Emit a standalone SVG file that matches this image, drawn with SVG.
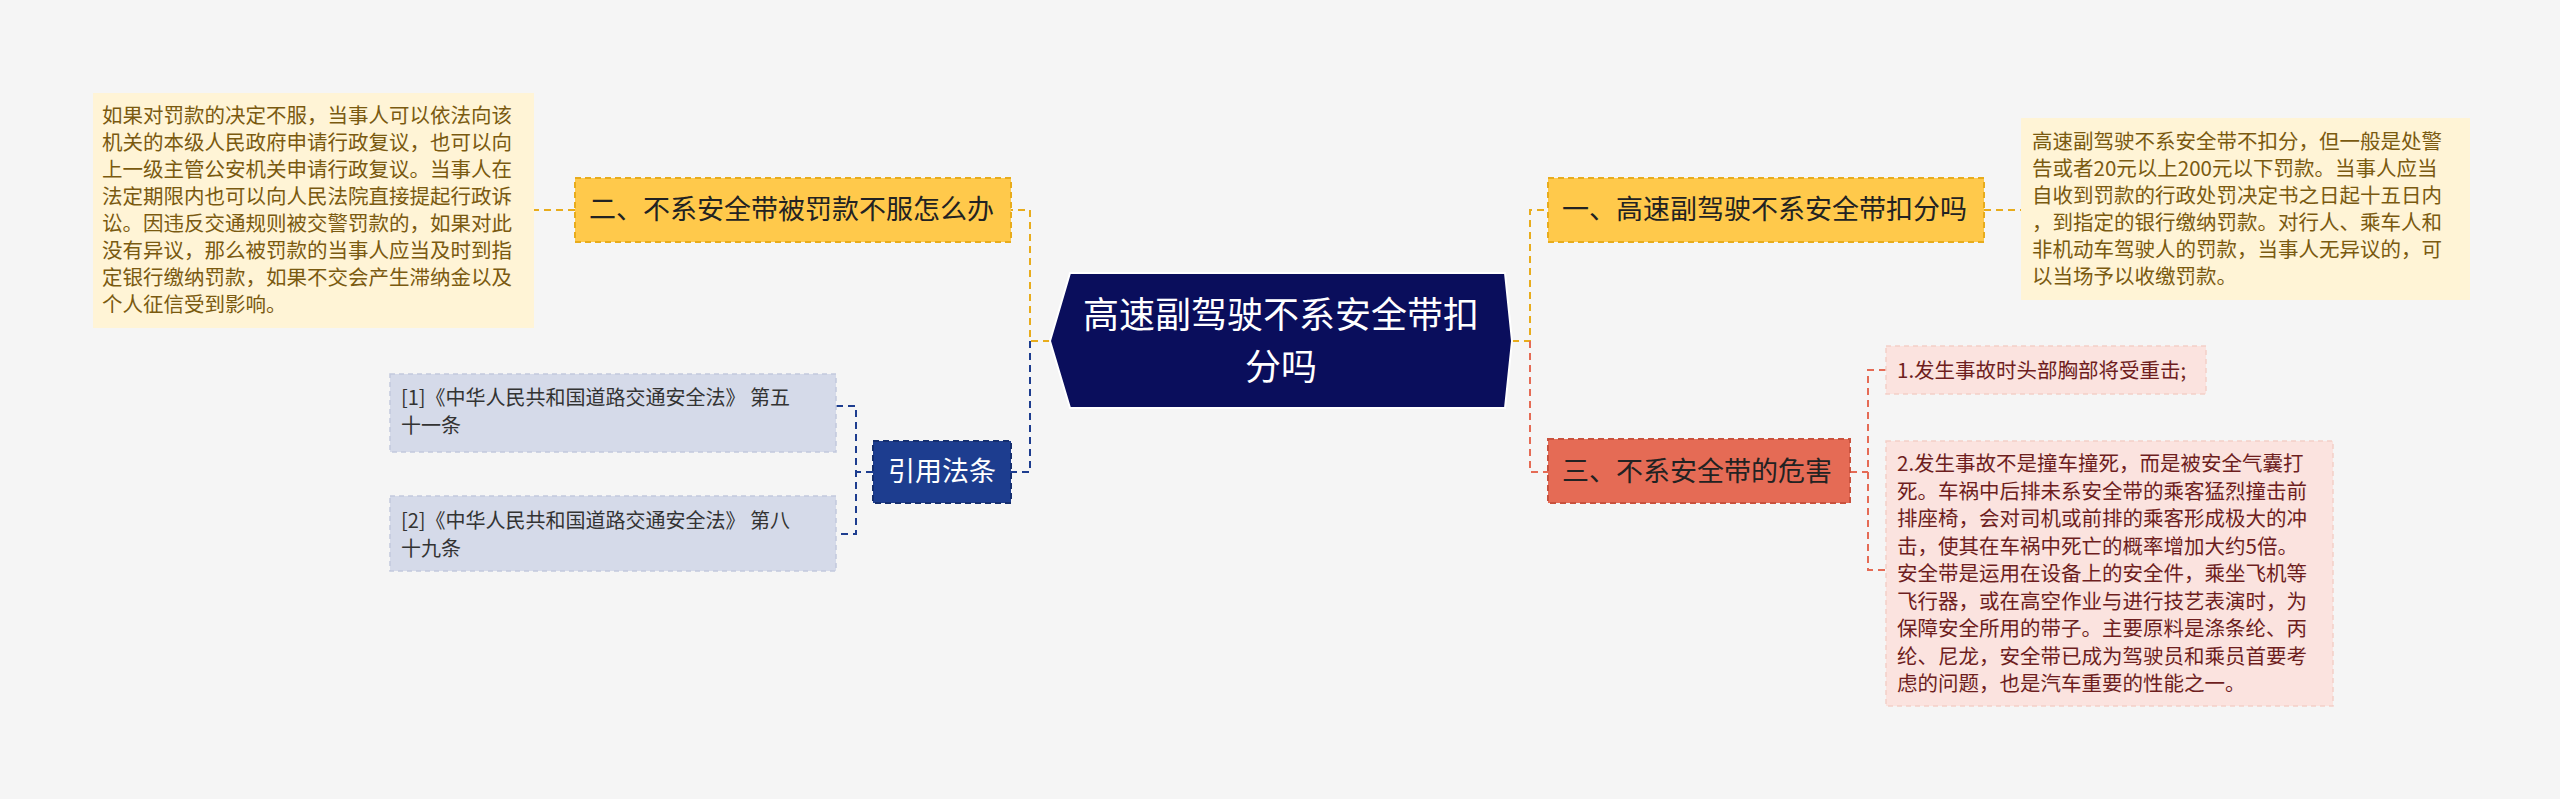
<svg xmlns="http://www.w3.org/2000/svg" width="2560" height="799" viewBox="0 0 2560 799">
<style>
text{font-family:"Noto Sans CJK SC","Liberation Sans",sans-serif}
.n{font-size:27px;fill:#222}
.y{fill:#FFC94B;stroke:#E8AC1C;stroke-width:2;stroke-dasharray:6 4}
.note{fill:#FFF4D6}
.nt{font-size:20.5px;fill:#7A5A10}
.lf{fill:#FBE3DF;stroke:#F4CFC8;stroke-width:1.5;stroke-dasharray:5 4}
.lt{font-size:20.5px;fill:#6E1E1E}
.rf{fill:#D5DAE9;stroke:#C2C9DD;stroke-width:1.5;stroke-dasharray:5 4}
.rt{font-size:20px;fill:#333}
.c{fill:none;stroke-width:2;stroke-dasharray:7 5}
</style>
<rect width="2560" height="799" fill="#F5F5F5"/>
<g id="connectors">
<path class="c" stroke="#E8AC1C" d="M1050 341H1030V210H1011"/>
<path class="c" stroke="#1D3D8F" d="M1030 341V472H1011"/>
<path class="c" stroke="#E8AC1C" d="M1512 341H1530V210H1548"/>
<path class="c" stroke="#E56B55" d="M1530 341V472H1548"/>
<path class="c" stroke="#E8AC1C" d="M1984 210H2021"/>
<path class="c" stroke="#E8AC1C" d="M575 210H534"/>
<path class="c" stroke="#E56B55" stroke-width="1.5" d="M1850 472H1868M1886 370H1868V570H1886"/>
<path class="c" stroke="#1D3D8F" stroke-width="1.5" d="M873 472H856M836 406H856V534H836"/>
</g>
<g id="center">
<polygon points="1050,341 1070,273 1505,273 1512,341 1505,408 1070,408" fill="#0A0E5C" stroke="#fff" stroke-width="2"/>
<text x="1281" y="328" font-size="36" fill="#fff" text-anchor="middle">高速副驾驶不系安全带扣</text>
<text x="1281" y="380" font-size="36" fill="#fff" text-anchor="middle">分吗</text>
</g>
<g id="n1">
<rect class="y" x="1548" y="178" width="436" height="64"/>
<text class="n" x="1562" y="219">一、高速副驾驶不系安全带扣分吗</text>
</g>
<g id="note1">
<rect class="note" x="2021" y="118" width="449" height="182"/>
<text class="nt" x="2032" y="149">高速副驾驶不系安全带不扣分，但一般是处警</text>
<text class="nt" x="2032" y="176">告或者20元以上200元以下罚款。当事人应当</text>
<text class="nt" x="2032" y="203">自收到罚款的行政处罚决定书之日起十五日内</text>
<text class="nt" x="2032" y="230">，到指定的银行缴纳罚款。对行人、乘车人和</text>
<text class="nt" x="2032" y="257">非机动车驾驶人的罚款，当事人无异议的，可</text>
<text class="nt" x="2032" y="284">以当场予以收缴罚款。</text>
</g>
<g id="n3">
<rect x="1548" y="439" width="302" height="64" fill="#E56B55" stroke="#C9523E" stroke-width="2" stroke-dasharray="6 4"/>
<text class="n" x="1562" y="481">三、不系安全带的危害</text>
</g>
<g id="leaf1">
<rect class="lf" x="1886" y="346" width="320" height="48"/>
<text class="lt" x="1897" y="378">1.发生事故时头部胸部将受重击;</text>
</g>
<g id="leaf2">
<rect class="lf" x="1886" y="441" width="447" height="265"/>
<text class="lt" x="1897" y="471">2.发生事故不是撞车撞死，而是被安全气囊打</text>
<text class="lt" x="1897" y="498.5">死。车祸中后排未系安全带的乘客猛烈撞击前</text>
<text class="lt" x="1897" y="526">排座椅，会对司机或前排的乘客形成极大的冲</text>
<text class="lt" x="1897" y="553.5">击，使其在车祸中死亡的概率增加大约5倍。</text>
<text class="lt" x="1897" y="581">安全带是运用在设备上的安全件，乘坐飞机等</text>
<text class="lt" x="1897" y="608.5">飞行器，或在高空作业与进行技艺表演时，为</text>
<text class="lt" x="1897" y="636">保障安全所用的带子。主要原料是涤条纶、丙</text>
<text class="lt" x="1897" y="663.5">纶、尼龙，安全带已成为驾驶员和乘员首要考</text>
<text class="lt" x="1897" y="691">虑的问题，也是汽车重要的性能之一。</text>
</g>
<g id="n2">
<rect class="y" x="575" y="178" width="436" height="64"/>
<text class="n" x="589" y="219">二、不系安全带被罚款不服怎么办</text>
</g>
<g id="note2">
<rect class="note" x="93" y="93" width="441" height="235"/>
<text class="nt" x="102" y="123">如果对罚款的决定不服，当事人可以依法向该</text>
<text class="nt" x="102" y="150">机关的本级人民政府申请行政复议，也可以向</text>
<text class="nt" x="102" y="177">上一级主管公安机关申请行政复议。当事人在</text>
<text class="nt" x="102" y="204">法定期限内也可以向人民法院直接提起行政诉</text>
<text class="nt" x="102" y="231">讼。因违反交通规则被交警罚款的，如果对此</text>
<text class="nt" x="102" y="258">没有异议，那么被罚款的当事人应当及时到指</text>
<text class="nt" x="102" y="285">定银行缴纳罚款，如果不交会产生滞纳金以及</text>
<text class="nt" x="102" y="312">个人征信受到影响。</text>
</g>
<g id="cite">
<rect x="873" y="441" width="138" height="62" fill="#1D3D8F" stroke="#152E6E" stroke-width="2" stroke-dasharray="6 4"/>
<text x="942" y="481" font-size="27" fill="#fff" text-anchor="middle">引用法条</text>
</g>
<g id="ref1">
<rect class="rf" x="390" y="374" width="446" height="78"/>
<text class="rt" x="401" y="405">[1]《中华人民共和国道路交通安全法》 第五</text>
<text class="rt" x="401" y="433">十一条</text>
</g>
<g id="ref2">
<rect class="rf" x="390" y="496" width="446" height="75"/>
<text class="rt" x="401" y="528">[2]《中华人民共和国道路交通安全法》 第八</text>
<text class="rt" x="401" y="556">十九条</text>
</g>
</svg>
